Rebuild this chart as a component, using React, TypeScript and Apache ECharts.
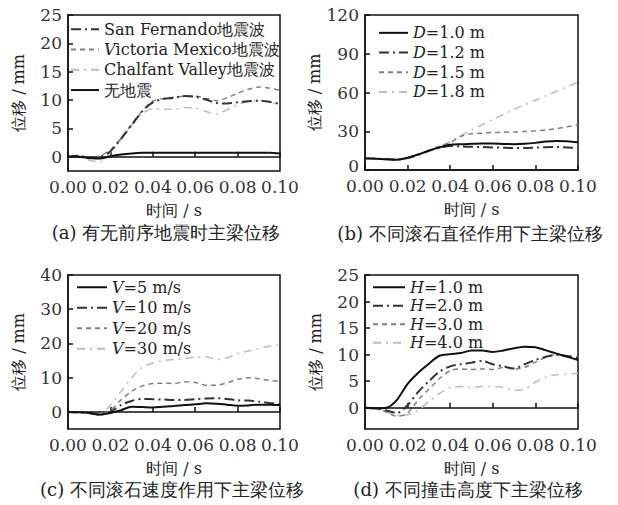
import React, { useEffect, useRef } from "react";
import * as echarts from "echarts";

const times = [0, 0.005, 0.01, 0.015, 0.02, 0.025, 0.03, 0.035, 0.04, 0.045, 0.05, 0.055, 0.06, 0.065, 0.07, 0.075, 0.08, 0.085, 0.09, 0.095, 0.1];
const xTicks = ["0.00", "0.02", "0.04", "0.06", "0.08", "0.10"];

// (a)
const aNames = ["San Fernando地震波", "Victoria Mexico地震波", "Chalfant Valley地震波", "无地震"];
const aSanFernando = [0, 0.2, -0.2, 0, 1.0, 3.2, 5.6, 8.0, 9.6, 10.2, 10.4, 10.7, 10.6, 10.1, 9.5, 9.4, 9.6, 9.8, 9.9, 9.7, 9.3];
const aVictoria = [0, 0.1, -0.3, 0.2, 1.2, 3.3, 5.7, 8.1, 9.8, 10.3, 10.5, 10.7, 10.7, 10.3, 9.9, 10.4, 11.2, 11.9, 12.3, 12.1, 11.7];
const aChalfant = [0, 0, -0.6, -0.9, 0.8, 3.0, 5.5, 7.6, 8.5, 8.4, 8.4, 8.7, 8.6, 8.0, 7.6, 8.3, 9.2, 9.7, 9.9, 9.6, 9.1];
const aNone = [0, 0, -0.2, -0.3, 0.1, 0.4, 0.6, 0.7, 0.7, 0.7, 0.7, 0.7, 0.7, 0.7, 0.7, 0.7, 0.7, 0.7, 0.7, 0.7, 0.6];

// (b)
const bNames = ["D=1.0 m", "D=1.2 m", "D=1.5 m", "D=1.8 m"];
const bD10 = [9, 8.8, 8.3, 8.0, 9.5, 12, 15, 17.5, 19.5, 20, 20.3, 20.6, 20.5, 20.2, 20, 20.3, 21, 22, 22.5, 22.3, 21.5];
const bD12 = [9, 8.8, 8.3, 8.0, 9.3, 11.8, 14.8, 17.3, 18.5, 18.2, 18.0, 17.8, 17.5, 17.2, 17.0, 17.0, 17.3, 17.6, 17.8, 17.5, 17.0];
const bD15 = [9, 8.8, 8.3, 8.0, 9.5, 12.2, 15.3, 18.5, 21, 26, 28, 28.5, 29, 29.2, 29.5, 29.8, 30.3, 31, 32, 33.5, 35];
const bD18 = [9, 8.8, 8.3, 8.0, 9.5, 12.2, 15.3, 18.5, 22, 26.5, 31, 35, 39, 43, 47, 50.5, 54, 57.5, 61, 64.5, 68];

// (c)
const cNames = ["V=5 m/s", "V=10 m/s", "V=20 m/s", "V=30 m/s"];
const cV5 = [0, -0.1, -0.3, -0.8, -0.3, 0.5, 1.5, 1.4, 1.3, 1.5, 1.7, 2.0, 2.2, 2.5, 2.4, 2.1, 1.8, 1.9, 2.1, 2.1, 2.0];
const cV10 = [0, -0.1, -0.3, -0.8, 0, 2.0, 3.2, 3.8, 3.7, 3.6, 3.5, 3.5, 3.7, 3.9, 4.0, 3.8, 3.4, 3.3, 3.0, 2.6, 2.2];
const cV20 = [0, -0.1, -0.3, -0.6, 0.5, 3.5, 6.0, 7.6, 8.3, 8.4, 8.3, 8.8, 8.6, 7.8, 7.8, 8.5, 9.5, 10.0, 9.7, 9.2, 9.0];
const cV30 = [0, -0.1, -0.4, -0.6, 2.0, 6.0, 10.0, 13.0, 14.3, 15.0, 15.3, 15.6, 16.0, 16.1, 15.3, 15.8, 17.0, 17.8, 18.5, 19.2, 19.6];

// (d)
const dNames = ["H=1.0 m", "H=2.0 m", "H=3.0 m", "H=4.0 m"];
const dH1 = [0, -0.1, 0, 1.5, 4.5, 6.6, 8.3, 9.8, 10.1, 10.3, 10.8, 10.8, 10.5, 10.8, 11.2, 11.5, 11.4, 10.8, 10.2, 9.6, 9.0];
const dH2 = [0, -0.1, -0.5, -1.0, 0.5, 3.0, 5.0, 6.8, 7.8, 8.2, 8.5, 8.8, 8.2, 7.8, 7.4, 8.2, 9.0, 9.6, 10.0, 9.7, 9.3];
const dH3 = [0, -0.2, -0.8, -1.6, -1.0, 1.5, 3.5, 5.5, 7.0, 7.3, 7.2, 7.3, 7.2, 7.6, 7.3, 7.6, 8.6, 9.5, 10.0, 9.8, 9.6];
const dH4 = [0, -0.2, -0.8, -1.5, -1.3, -0.5, 1.2, 2.7, 3.8, 4.0, 3.8, 4.0, 4.0, 3.8, 3.3, 3.5, 4.8, 5.8, 6.2, 6.3, 6.5];

const captions = [
  "(a) 有无前序地震时主梁位移",
  "(b) 不同滚石直径作用下主梁位移",
  "(c) 不同滚石速度作用下主梁位移",
  "(d) 不同撞击高度下主梁位移",
];

const FONT = "DejaVu Serif";

const STYLES = [
  { color: "#111", width: 2, type: "solid" as any },
  { color: "#333", width: 2, type: [10, 4, 2, 4] },
  { color: "#808080", width: 1.5, type: [5, 4] },
  { color: "#bdbdbd", width: 1.5, type: [8, 5, 2, 5] },
];

export default function App() {
  const ref = useRef<HTMLDivElement>(null);
  useEffect(() => {
    document.body.style.margin = "0";
    const chart = echarts.init(ref.current!, null, { renderer: "svg" });

    const grids = [
      { left: 68, top: 15, width: 212, height: 156 },
      { left: 365, top: 15, width: 213, height: 155 },
      { left: 68, top: 275, width: 212, height: 154 },
      { left: 365, top: 275, width: 213, height: 154 },
    ];
    const yCfg = [
      { min: -2.5, max: 25, vals: [0, 5, 10, 15, 20, 25] },
      { min: 0, max: 120, vals: [0, 30, 60, 90, 120] },
      { min: -5, max: 40, vals: [0, 10, 20, 30, 40] },
      { min: -4, max: 25, vals: [0, 5, 10, 15, 20, 25] },
    ];
    const panels = [
      { names: aNames, data: [aSanFernando, aVictoria, aChalfant, aNone], styleIdx: [1, 2, 3, 0] },
      { names: bNames, data: [bD10, bD12, bD15, bD18], styleIdx: [0, 1, 2, 3] },
      { names: cNames, data: [cV5, cV10, cV20, cV30], styleIdx: [0, 1, 2, 3] },
      { names: dNames, data: [dH1, dH2, dH3, dH4], styleIdx: [0, 1, 2, 3] },
    ];
    const legendPos = [
      { left: 70, top: 19, lh: 20.3, w: 28 },
      { left: 378, top: 23, lh: 19.7, w: 29 },
      { left: 76, top: 277, lh: 20.5, w: 30 },
      { left: 372, top: 278, lh: 18.5, w: 32 },
    ];
    const xTickVals = xTicks.map((s) => parseFloat(s));

    const series: any[] = [];
    panels.forEach((p, gi) => {
      p.names.forEach((n, si) => {
        const st = STYLES[p.styleIdx[si]];
        series.push({
          type: "line",
          name: n,
          xAxisIndex: gi,
          yAxisIndex: gi,
          data: times.map((t, k) => [t, p.data[si][k]]),
          showSymbol: false,
          symbol: "none",
          smooth: 0.3,
          lineStyle: { color: st.color, width: st.width, type: st.type },
          itemStyle: { color: st.color },
          z: 10 - p.styleIdx[si],
        });
      });
    });

    const option: any = {
      animation: false,
      backgroundColor: "#fff",
      grid: grids.map((g) => ({ ...g, show: true, borderColor: "#111", borderWidth: 1.5, backgroundColor: "transparent" })),
      xAxis: grids.map((_, gi) => ({
        type: "value",
        gridIndex: gi,
        min: 0,
        max: 0.1,
        name: "时间 / s",
        nameLocation: "middle",
        nameGap: 31,
        nameTextStyle: { fontFamily: FONT, fontSize: 16, color: "#222" },
        axisLine: { show: true, lineStyle: { color: "#111", width: 1.5 } },
        axisTick: { show: true, inside: true, length: 5, lineStyle: { color: "#111", width: 1.5 }, customValues: xTickVals },
        axisLabel: {
          fontFamily: FONT,
          fontSize: 17,
          lineHeight: 15,
          color: "#333",
          margin: 8,
          customValues: xTickVals,
          formatter: (v: number) => v.toFixed(2),
        },
        splitLine: { show: false },
      })),
      yAxis: grids.map((_, gi) => ({
        type: "value",
        gridIndex: gi,
        min: yCfg[gi].min,
        max: yCfg[gi].max,
        name: "位移 / mm",
        nameLocation: "middle",
        nameRotate: 90,
        nameGap: 42,
        nameTextStyle: { fontFamily: FONT, fontSize: 16, color: "#222" },
        axisLine: { show: true, lineStyle: { color: "#111", width: 1.5 } },
        axisTick: { show: true, inside: true, length: 5, lineStyle: { color: "#111", width: 1.5 }, customValues: yCfg[gi].vals },
        axisLabel: {
          fontFamily: FONT,
          fontSize: 17,
          lineHeight: 13,
          color: "#333",
          margin: 6,
          customValues: yCfg[gi].vals,
          formatter: (v: number) => (gi === 1 && v === 0 ? "{z|0}" : String(v)),
          rich: { z: { fontFamily: FONT, fontSize: 17, color: "#333", padding: [0, 0, 8, 0] } },
        },
        splitLine: { show: false },
      })),
      legend: panels.map((p, gi) => ({
        data: p.names,
        orient: "vertical",
        left: legendPos[gi].left,
        top: legendPos[gi].top,
        padding: 0,
        itemGap: 0,
        itemWidth: legendPos[gi].w,
        itemHeight: 12,
        itemStyle: { color: "transparent", borderWidth: 0, opacity: 0 },
        formatter: (name: string) => {
          const m = name.match(/^([DVH])(.*)$/);
          return m ? `{i|${m[1]}}{n|${m[2]}}` : `{n|${name}}`;
        },
        textStyle: {
          fontFamily: FONT,
          fontSize: 16,
          color: "#222",
          lineHeight: legendPos[gi].lh,
          rich: {
            i: { fontFamily: FONT, fontSize: 16, fontStyle: "italic", color: "#222", lineHeight: legendPos[gi].lh },
            n: { fontFamily: FONT, fontSize: 16, color: "#222", lineHeight: legendPos[gi].lh },
          },
        },
      })),
      graphic: [
        { x: 166, y: 232, text: captions[0] },
        { x: 470, y: 233, text: captions[1] },
        { x: 172, y: 489, text: captions[2] },
        { x: 468, y: 489, text: captions[3] },
      ].map((c) => ({
        type: "text",
        x: c.x,
        y: c.y,
        style: { text: c.text, fontFamily: FONT, fontSize: 18, fill: "#222", textAlign: "center", textVerticalAlign: "middle" },
      })),
      series,
    };
    chart.setOption(option);
    return () => chart.dispose();
  }, []);
  return <div ref={ref} style={{ width: 618, height: 505 }} />;
}
